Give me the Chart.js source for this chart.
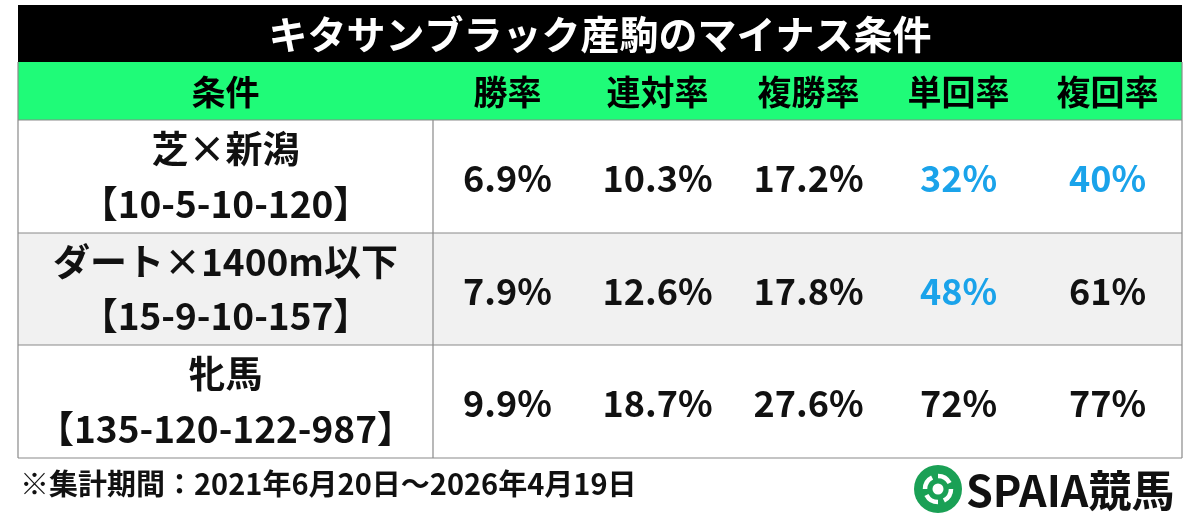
<!DOCTYPE html>
<html><head><meta charset="utf-8">
<script src="https://cdn.jsdelivr.net/npm/chart.js@4.4.1/dist/chart.umd.min.js"></script>
<style>body{margin:0;background:#fff}#wrap{width:1200px;height:525px}</style>
</head><body><div id="wrap"><canvas id="tbl"></canvas></div>
<script>
const title = "キタサンブラック産駒のマイナス条件";
const headers = ["条件", "勝率", "連対率", "複勝率", "単回率", "複回率"];
const condNames = ["芝×新潟", "ダート×1400m以下", "牝馬"];
const condRecords = ["【10-5-10-120】", "【15-9-10-157】", "【135-120-122-987】"];
const winRate = ["6.9%", "7.9%", "9.9%"];
const top2Rate = ["10.3%", "12.6%", "18.7%"];
const top3Rate = ["17.2%", "17.8%", "27.6%"];
const winReturn = ["32%", "48%", "72%"];
const placeReturn = ["40%", "61%", "77%"];
const blueCells = [[4, 0], [5, 0], [4, 1]];
const footnote = "※集計期間：2021年6月20日～2026年4月19日";

const colEdges = [0, 415, 564, 715, 866, 1015, 1164];
const rowEdges = [0, 57, 115, 228, 340, 453];
const FONT = '"Noto Sans CJK JP", "Noto Sans", sans-serif';

const tablePlugin = {
  id: "tablePlugin",
  afterDraw(chart) {
    const ctx = chart.ctx, xs = chart.scales.x, ys = chart.scales.y;
    const X = v => xs.getPixelForValue(v), Y = v => ys.getPixelForValue(v);
    const cols = [null, winRate, top2Rate, top3Rate, winReturn, placeReturn];
    ctx.save();
    ctx.textAlign = "center"; ctx.textBaseline = "middle";
    // title bar
    ctx.fillStyle = "#000";
    ctx.fillRect(X(0), Y(0), X(1164) - X(0), Y(rowEdges[1]) - Y(0));
    ctx.fillStyle = "#fff"; ctx.font = "bold 39px " + FONT;
    ctx.fillText(title, (X(0) + X(1164)) / 2, (Y(0) + Y(rowEdges[1])) / 2 + 1);
    // header row
    ctx.fillStyle = "#1ffb78";
    ctx.fillRect(X(0), Y(rowEdges[1]), X(1164) - X(0), Y(rowEdges[2]) - Y(rowEdges[1]));
    ctx.fillStyle = "#000"; ctx.font = "bold 34px " + FONT;
    headers.forEach((h, i) => ctx.fillText(h, (X(colEdges[i]) + X(colEdges[i + 1])) / 2, (Y(rowEdges[1]) + Y(rowEdges[2])) / 2 + 1));
    // body rows
    condNames.forEach((name, r) => {
      const y0 = Y(rowEdges[r + 2]), y1 = Y(rowEdges[r + 3]);
      ctx.fillStyle = r === 1 ? "#f1f1f1" : "#fff";
      ctx.fillRect(X(0), y0, X(1164) - X(0), y1 - y0);
      ctx.fillStyle = "#111"; ctx.font = "bold 37px " + FONT;
      const cx = (X(0) + X(415)) / 2;
      ctx.fillText(name, cx, y0 + (y1 - y0) * 0.26);
      ctx.fillText(condRecords[r], cx, y0 + (y1 - y0) * 0.74);
      for (let c = 1; c < 6; c++) {
        const blue = blueCells.some(b => b[0] === c && b[1] === r);
        ctx.fillStyle = blue ? "#1aa3ea" : "#111";
        ctx.font = "bold 36px " + FONT;
        ctx.fillText(cols[c][r], (X(colEdges[c]) + X(colEdges[c + 1])) / 2, (y0 + y1) / 2 + 2);
      }
    });
    // grid lines
    ctx.strokeStyle = "#8a8a8a"; ctx.lineWidth = 1.2;
    rowEdges.slice(2).forEach(v => { ctx.beginPath(); ctx.moveTo(X(0), Y(v)); ctx.lineTo(X(1164), Y(v)); ctx.stroke(); });
    ctx.beginPath(); ctx.moveTo(X(0), Y(rowEdges[1])); ctx.lineTo(X(0), Y(453));
    ctx.moveTo(X(1164), Y(rowEdges[1])); ctx.lineTo(X(1164), Y(453));
    ctx.moveTo(X(415), Y(rowEdges[2])); ctx.lineTo(X(415), Y(453)); ctx.stroke();
    // footnote
    ctx.textAlign = "left"; ctx.fillStyle = "#111"; ctx.font = "bold 29px " + FONT;
    ctx.fillText(footnote, 20, 484);
    // logo
    const lx = 938, ly = 489;
    ctx.fillStyle = "#1aa055";
    ctx.beginPath(); ctx.arc(lx, ly, 24, 0, Math.PI * 2); ctx.fill();
    ctx.strokeStyle = "#fff"; ctx.lineWidth = 4.5;
    for (let k = 0; k < 4; k++) {
      ctx.beginPath(); ctx.arc(lx, ly, 13, k * Math.PI / 2, k * Math.PI / 2 + 1.1); ctx.stroke();
    }
    ctx.fillStyle = "#fff"; ctx.beginPath(); ctx.arc(lx, ly, 5.5, 0, Math.PI * 2); ctx.fill();
    ctx.fillStyle = "#111"; ctx.font = "bold 43px " + FONT;
    ctx.fillText("SPAIA競馬", 966, ly + 2);
    ctx.restore();
  }
};

new Chart("tbl", {
  type: "scatter",
  data: { datasets: [] },
  options: {
    responsive: true, maintainAspectRatio: false, animation: false,
    layout: { padding: { left: 18, right: 18, top: 5, bottom: 67 } },
    plugins: { legend: { display: false }, tooltip: { enabled: false } },
    scales: {
      x: { type: "linear", min: 0, max: 1164, display: false },
      y: { type: "linear", min: 0, max: 453, reverse: true, display: false }
    }
  },
  plugins: [tablePlugin]
});
</script></body></html>
